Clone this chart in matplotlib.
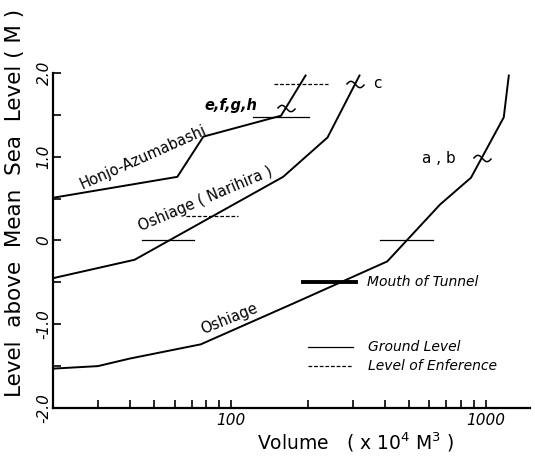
import matplotlib.pyplot as plt
import numpy as np
from matplotlib.path import Path

plt.rcParams['font.family'] = ['DejaVu Sans']

# curves: volume (x10^4 m3) vs level (m)
honjo_x = [20, 61.5, 77.8, 157, 196]
honjo_y = [0.51, 0.76, 1.24, 1.49, 1.97]

narihira_x = [20, 41.8, 160, 239, 319]
narihira_y = [-0.45, -0.23, 0.76, 1.23, 1.97]

oshiage_x = [20, 30, 40, 76, 176, 410, 661, 874, 1175, 1230]
oshiage_y = [-1.53, -1.50, -1.41, -1.24, -0.75, -0.25, 0.43, 0.75, 1.47, 1.97]

# ground level marks (level, x from, x to)
ground_lv = [1.48, 0.0, 0.0]
ground_x0 = [122, 44.5, 385]
ground_x1 = [202, 71.7, 620]

# level of enference marks
enf_lv = [1.87, 0.29]
enf_x0 = [147, 66.7]
enf_x1 = [239, 106]

tunnel_lv = -0.50
tunnel_x = [191, 308]

# break marks on curves
brk_x = [164, 305, 962]
brk_y = [1.58, 1.87, 0.98]

fig = plt.figure(figsize=(5.35, 4.62), dpi=100)
ax = fig.add_axes([0.0991, 0.1169, 0.8916, 0.7251])

lc = 'black'
ax.plot(honjo_x, honjo_y, color=lc, lw=1.4)
ax.plot(narihira_x, narihira_y, color=lc, lw=1.4)
ax.plot(oshiage_x, oshiage_y, color=lc, lw=1.4)

for lv, a, b in zip(ground_lv, ground_x0, ground_x1):
    ax.plot([a, b], [lv, lv], color=lc, lw=0.9)
for lv, a, b in zip(enf_lv, enf_x0, enf_x1):
    ax.plot([a, b], [lv, lv], color=lc, lw=0.9, ls=(0, (3, 1.5)))
ax.plot(tunnel_x, [tunnel_lv, tunnel_lv], color=lc, lw=2.8)

# tilde shaped marker for the breaks
t = np.linspace(-1, 1, 30)
tilde = Path(np.column_stack([t, -0.35 * np.sin(np.pi * t)]))
ax.plot(brk_x, brk_y, ls='', marker=tilde, markersize=13,
        mfc='none', mec=lc, mew=1.1)

# legend drawn by hand
ax.plot([200, 300], [-1.27, -1.27], color=lc, lw=0.9)
ax.plot([200, 300], [-1.50, -1.50], color=lc, lw=0.9, ls=(0, (3, 1.5)))
ax.text(346, -1.27, 'Ground Level', fontsize=10, style='italic', ha='left', va='center')
ax.text(346, -1.50, 'Level of Enference', fontsize=10, style='italic', ha='left', va='center')
ax.text(343, -0.50, 'Mouth of Tunnel', fontsize=10, style='italic', ha='left', va='center')

ax.text(45.3, 0.99, 'Honjo-Azumabashi', fontsize=10.5, rotation=24,
        ha='center', va='center', rotation_mode='anchor')
ax.text(79.1, 0.50, 'Oshiage ( Narihira )', fontsize=10.5, rotation=23,
        ha='center', va='center', rotation_mode='anchor')
ax.text(98.2, -0.93, 'Oshiage', fontsize=10.5, rotation=22,
        ha='center', va='center', rotation_mode='anchor')
ax.text(100, 1.61, 'e,f,g,h', fontsize=10.5, style='italic', weight='bold',
        ha='center', va='center')
ax.text(375, 1.87, 'c', fontsize=11, ha='center', va='center')
ax.text(655, 0.98, 'a , b', fontsize=11, ha='center', va='center')

ax.set_xscale('log')
ax.set_xlim(20, 1490)
ax.set_ylim(-2, 2)

ax.set_yticks([-2, -1, 0, 1, 2])
ax.set_yticklabels(['-2.0', '-1.0', '0', '1.0', '2.0'], rotation=90,
                   va='center', style='italic', fontsize=11)
ax.set_yticks([-1.5, -0.5, 0.5, 1.5], minor=True)
ax.set_xticks([100, 1000])
ax.set_xticklabels(['100', '1000'], style='italic', fontsize=11)

ax.tick_params(which='both', direction='in', length=6, width=1.2)
ax.tick_params(axis='x', which='minor', labelbottom=False)
ax.tick_params(axis='y', pad=1)

ax.spines['top'].set_visible(False)
ax.spines['right'].set_visible(False)
ax.spines['left'].set_linewidth(1.6)
ax.spines['bottom'].set_linewidth(1.6)

fig.text(356 / 535, 1 - 442 / 462, 'Volume   ( x 10$^4$ M$^3$ )', fontsize=13.5,
         ha='center', va='center')
fig.text(15 / 535, 1 - 203 / 462, 'Level  above  Mean  Sea  Level ( M )', fontsize=15.5,
         rotation=90, ha='center', va='center')

fig.savefig('out.png', dpi=100)
